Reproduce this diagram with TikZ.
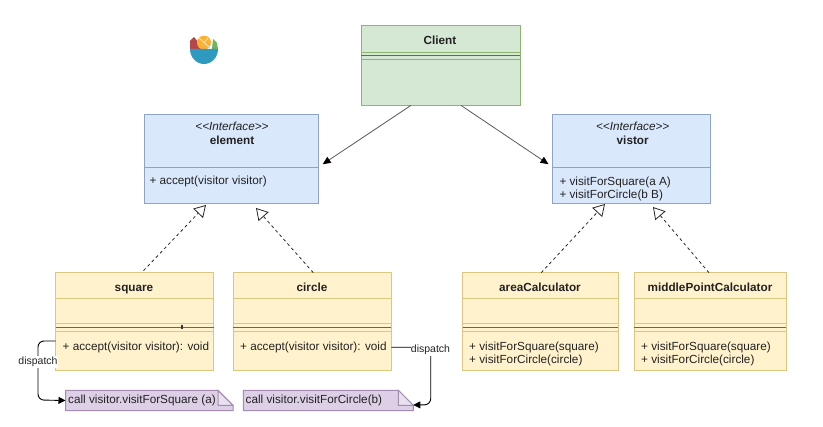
\documentclass[tikz,border=0pt]{standalone}
\usepackage{fontspec}
\setmainfont{Liberation Sans}
\usetikzlibrary{arrows.meta,calc}
\definecolor{bluefill}{HTML}{DAE8FC}
\definecolor{bluedraw}{HTML}{8EA4C4}
\definecolor{yelfill}{HTML}{FFF2CC}
\definecolor{yeldraw}{HTML}{DCC680}
\definecolor{grefill}{HTML}{D5E8D4}
\definecolor{gredraw}{HTML}{8DB56F}
\definecolor{purfill}{HTML}{DDD0E6}
\definecolor{purdraw}{HTML}{A48BB0}
\definecolor{folddark}{HTML}{E9E2EE}
\definecolor{txt}{HTML}{222222}
\definecolor{bowl}{HTML}{2F9ABF}
\definecolor{fruitred}{HTML}{B5474A}
\definecolor{fruitorange}{HTML}{F9B233}
\definecolor{fruitgreen}{HTML}{6DB65B}
\newcommand{\sepl}[3]{\draw[#3] ([yshift=-#2pt]#1.north west) -- ([yshift=-#2pt]#1.north east);}
\newcommand{\dbl}[5]{\sepl{#1}{#2}{#5}\sepl{#1}{#3}{dk}\sepl{#1}{#4}{#5}}
\tikzset{
  boxb/.style={anchor=north west,inner sep=0pt,outer sep=0pt,line width=1pt},
  bluebox/.style={boxb,draw=bluedraw,fill=bluefill},
  yelbox/.style={boxb,draw=yeldraw,fill=yelfill,minimum height=98.3pt},
  grebox/.style={boxb,draw=gredraw,fill=grefill},
  dk/.style={draw=black!60,line width=1.2pt},
  txb/.style={inner sep=0pt,text height=8.4pt,text depth=0pt,font=\fontsize{11.75pt}{13pt}\selectfont,text=txt},
  lab/.style={txb,anchor=west},
  ttl/.style={txb,font=\fontsize{11.75pt}{13pt}\selectfont\bfseries,anchor=center},
  ital/.style={txb,font=\fontsize{11.75pt}{13pt}\selectfont\itshape,anchor=center},
  assoc/.style={draw=black!65,line width=0.8pt,-{Triangle[length=8pt,width=7pt,black]},shorten >=5pt},
  impl/.style={draw=black!85,line width=0.8pt,dash pattern=on 3pt off 3pt,-{Triangle[open,length=11.5pt,width=13.5pt,line width=0.8pt,black!85]}},
  disp/.style={draw=black,line width=0.9pt,rounded corners=6pt,-{Triangle[length=7pt,width=7pt]}},
  notebg/.style={anchor=north west,inner sep=0pt,outer sep=0pt,minimum height=20.4pt},
  notepath/.style={fill=purfill,draw=purdraw,line width=1pt},
  small/.style={inner sep=0pt,text=txt,font=\fontsize{10.5pt}{12pt}\selectfont,anchor=center,fill=white,inner xsep=0pt,inner ysep=1pt}
}
\begin{document}
\begin{tikzpicture}[x=1pt,y=-1pt]
\useasboundingbox (0,0) rectangle (823,427);
% icon
\fill[fruitred] (190,49) -- (190,41) -- (194,37) -- (204,49) -- cycle;
\fill[fruitgreen] (212,49) -- (213,39) -- (217,43) -- (218,49) -- cycle;
\fill[fruitorange] (204,42.7) circle (7);
\draw[white,line width=0.5pt] (199,38) -- (209,47) (204,42.7) -- (208,38);
\fill[bowl] (190,49) -- (218,49) arc[start angle=0,end angle=-180,x radius=14,y radius=-15] -- cycle;
% boxes
\node[grebox,minimum width=159pt,minimum height=79.4pt] (client) at (361,26) {};
\dbl{client}{26}{29.7}{33.7}{gredraw}
\node[bluebox,minimum width=174pt,minimum height=88.5pt] (element) at (144.5,115) {};
\sepl{element}{52}{bluedraw}
\node[bluebox,minimum width=157.5pt,minimum height=89pt] (vistor) at (552.7,115) {};
\sepl{vistor}{52}{bluedraw}
\node[yelbox,minimum width=158pt] (square) at (55.5,272.7) {};
\node[yelbox,minimum width=158pt] (circle) at (233.3,272.7) {};
\node[yelbox,minimum width=155.3pt] (area) at (462.7,272.7) {};
\node[yelbox,minimum width=151.7pt] (middle) at (634.3,272.7) {};
\foreach \n in {square,circle,area,middle}{
  \sepl{\n}{25.6}{yeldraw}
  \dbl{\n}{50.6}{55}{58.3}{yeldraw}
}
\fill[black!80] (181,324.7) rectangle (183,328.7);
% notes
\node[notebg,minimum width=167.5pt] (noteA) at (65.5,390.3) {};
\node[notebg,minimum width=170pt] (noteB) at (243.3,390.3) {};
\foreach \n in {noteA,noteB}{
  \draw[notepath] (\n.north west) -- ([xshift=-15pt]\n.north east) -- ([yshift=-15pt]\n.north east) -- (\n.south east) -- (\n.south west) -- cycle;
  \draw[notepath,fill=folddark] ([xshift=-15pt]\n.north east) -- ([yshift=-15pt]\n.north east) -- ([xshift=-15pt,yshift=-15pt]\n.north east) -- cycle;
}
% text
\node[ttl] (tClient) at (440,40.5) {Client};
\node[ital] (tIntA) at (232,126.7) {<{}<Interface>{}>};
\node[ttl] (tElement) at (232,140) {element};
\node[lab] (tAccept) at (149.3,180.7) {+ accept(visitor visitor)};
\node[ital] (tIntB) at (632.7,126.7) {<{}<Interface>{}>};
\node[ttl] (tVistor) at (632.7,140) {vistor};
\node[lab] (tV1) at (559.3,181) {+ visitForSquare(a A)};
\node[lab] (tV2) at (559.3,194.3) {+ visitForCircle(b B)};
\node[ttl] (tSquare) at (134,287) {square};
\node[ttl] (tCircle) at (312,287) {circle};
\node[ttl] (tArea) at (540,287) {areaCalculator};
\node[ttl] (tMiddle) at (710,287) {middlePointCalculator};
\node[lab] (tS) at (62.5,346) {+ accept(visitor visitor): void};
\node[lab] (tC) at (240,346) {+ accept(visitor visitor): void};
\node[lab] (tA1) at (469,346) {+ visitForSquare(square)};
\node[lab] (tA2) at (469,359.5) {+ visitForCircle(circle)};
\node[lab] (tM1) at (641,346) {+ visitForSquare(square)};
\node[lab] (tM2) at (641,359.5) {+ visitForCircle(circle)};
\node[lab] (tNA) at (68,399) {call visitor.visitForSquare (a)};
\node[lab] (tNB) at (245.5,399) {call visitor.visitForCircle(b)};
% connectors
\draw[assoc] ($(client.south west)+(50,0)$) -- ($(element.north east)+(0,52)$);
\draw[assoc] ($(client.south east)+(-59,0)$) -- ($(vistor.north west)+(0,52)$);
\draw[impl] ($(square.north west)+(88,-2)$) -- ($(element.south west)+(61.5,1.5)$);
\draw[impl] ($(circle.north west)+(80,0)$) -- ($(element.south west)+(111.5,4.5)$);
\draw[impl] ($(area.north west)+(78.5,0)$) -- ($(vistor.south west)+(52.3,0)$);
\draw[impl] ($(middle.north west)+(74.7,0)$) -- ($(vistor.south west)+(100.3,3)$);
\coordinate (dA) at (38,400);
\coordinate (dB) at (430.7,404.7);
\draw[disp] ($(square.south west)+(0,-30)$) -| (dA) -- (noteA.west);
\draw[disp] ($(circle.south east)+(0,-23.7)$) -| (dB) -- ($(noteB.south east)+(0,-5.7)$);
\node[small] (lA) at (38,362) {dispatch};
\node[small] (lB) at (430.5,350) {dispatch};
\end{tikzpicture}
\end{document}
